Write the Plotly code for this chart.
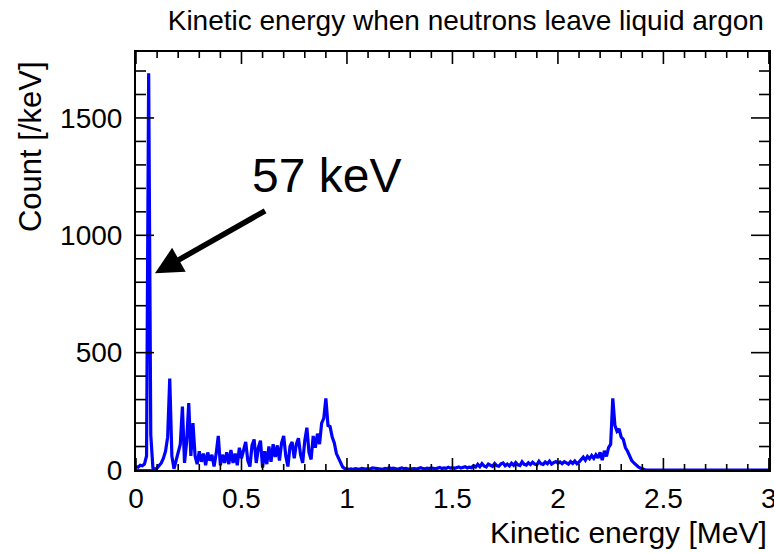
import numpy as np
import plotly.graph_objects as go

# Bin centres every 10 keV from 0 to 3 MeV
energy_mev = np.round(np.arange(0, 301) * 0.01, 2)

counts_0_1 = [
    15, 12, 20, 18, 25, 60, 1690, 150, 10, 2,        # 0.00-0.09
    8, 20, 30, 50, 80, 140, 390, 60, 5, 40,          # 0.10-0.19
    70, 110, 270, 30, 120, 285, 60, 200, 60, 25,     # 0.20-0.29
    80, 35, 70, 20, 75, 40, 65, 15, 70, 145,         # 0.30-0.39
    20, 65, 30, 75, 25, 85, 30, 70, 20, 95,          # 0.40-0.49
    50, 90, 120, 40, 15, 105, 130, 30, 95, 125,      # 0.50-0.59
    10, 80, 25, 100, 35, 110, 55, 105, 40, 115,      # 0.60-0.69
    145, 60, 15, 100, 120, 50, 110, 135, 65, 30,     # 0.70-0.79
    125, 180, 75, 45, 145, 95, 155, 110, 200, 220,   # 0.80-0.89
    305, 190, 185, 140, 115, 70, 50, 25, 12, 6,      # 0.90-0.99
]
counts_1_2 = [
    4, 3, 5, 2, 6, 4, 3, 7, 5, 4,                    # 1.00-1.09
    6, 3, 9, 8, 4, 6, 5, 3, 7, 5,                    # 1.10-1.19
    10, 6, 8, 5, 3, 6, 9, 5, 7, 4,                   # 1.20-1.29
    5, 8, 6, 4, 7, 10, 6, 5, 8, 6,                   # 1.30-1.39
    9, 7, 5, 8, 11, 6, 9, 7, 12, 8,                  # 1.40-1.49
    10, 7, 9, 13, 8, 11, 14, 9, 12, 10,              # 1.50-1.59
    18, 12, 24, 14, 27, 17, 13, 25, 19, 15,          # 1.60-1.69
    28, 19, 16, 26, 30, 18, 25, 17, 29, 20,          # 1.70-1.79
    32, 22, 19, 35, 24, 21, 31, 23, 33, 25,          # 1.80-1.89
    22, 37, 26, 24, 34, 27, 38, 25, 31, 36,          # 1.90-1.99
]
counts_2_3 = [
    29, 34, 27, 35, 30, 25, 36, 28, 38, 27,          # 2.00-2.09
    34, 45, 55, 42, 58, 48, 62, 50, 65, 52,          # 2.10-2.19
    75, 42, 82, 58, 95, 110, 305, 190, 165, 175,     # 2.20-2.29
    140, 130, 95, 80, 55, 40, 30, 20, 14, 8,         # 2.30-2.39
    4, 2, 0, 0, 0, 0, 0, 0, 0, 0,                    # 2.40-2.49
    0, 0, 0, 0, 0, 0, 0, 0, 0, 0,                    # 2.50-2.59
    0, 0, 0, 0, 0, 0, 0, 0, 0, 0,                    # 2.60-2.69
    0, 0, 0, 0, 0, 0, 0, 0, 0, 0,                    # 2.70-2.79
    0, 0, 0, 0, 0, 0, 0, 0, 0, 0,                    # 2.80-2.89
    0, 0, 0, 0, 0, 0, 0, 0, 0, 0,                    # 2.90-2.99
    0,                                               # 3.00
]
counts = counts_0_1 + counts_1_2 + counts_2_3

x_ticks = [0, 0.5, 1, 1.5, 2, 2.5, 3]
x_tick_text = ["0", "0.5", "1", "1.5", "2", "2.5", "3"]
y_ticks = [0, 500, 1000, 1500]
y_tick_text = ["0", "500", "1000", "1500"]
x_minor_step = 0.1
y_minor_step = 100

title_text = "Kinetic energy when neutrons leave liquid argon"
x_title = "Kinetic energy [MeV]"
y_title = "Count [/keV]"
peak_label = "57 keV"

FONT = "Liberation Sans, Arial, Helvetica, sans-serif"
X_RANGE = [0, 3.0005]
Y_RANGE = [0, 1781]
PLOT_W, PLOT_H = 633, 418

fig = go.Figure()
fig.add_trace(go.Scatter(
    x=energy_mev, y=counts, mode="lines",
    line=dict(color="#0000ff", width=3.2),
    showlegend=False, hoverinfo="skip",
))

axis_common = dict(
    showgrid=False, zeroline=False, showline=True, linecolor="black",
    linewidth=2, mirror=True, ticks="",
    tickfont=dict(family=FONT, size=28, color="black"),
    ticklabeloverflow="allow", automargin=False,
)
fig.update_xaxes(range=X_RANGE, tickvals=x_ticks, ticktext=x_tick_text,
                 ticklabelstandoff=2, **axis_common)
fig.update_yaxes(range=Y_RANGE, tickvals=y_ticks, ticktext=y_tick_text,
                 ticklabelstandoff=6, **axis_common)

# ROOT-style inside ticks on all four sides, derived from the tick arrays
shapes = []
tick_line = dict(color="black", width=1.6)
x_minor = [v for v in np.round(np.arange(x_ticks[0], x_ticks[-1] + 1e-9, x_minor_step), 3)
           if not np.any(np.isclose(v, x_ticks))]
y_minor = [v for v in np.arange(y_ticks[0], Y_RANGE[1], y_minor_step)
           if v not in y_ticks]
for vals, length in ((x_ticks, 12), (x_minor, 6)):
    frac = length / PLOT_H
    for v in vals:
        shapes.append(dict(type="line", xref="x", yref="paper", x0=v, x1=v,
                           y0=0, y1=frac, line=tick_line, layer="above"))
        shapes.append(dict(type="line", xref="x", yref="paper", x0=v, x1=v,
                           y0=1, y1=1 - frac, line=tick_line, layer="above"))
for vals, length in ((y_ticks, 18), (y_minor, 10)):
    frac = length / PLOT_W
    for v in vals:
        shapes.append(dict(type="line", xref="paper", yref="y", x0=0, x1=frac,
                           y0=v, y1=v, line=tick_line, layer="above"))
        shapes.append(dict(type="line", xref="paper", yref="y", x0=1, x1=1 - frac,
                           y0=v, y1=v, line=tick_line, layer="above"))

fig.update_layout(
    width=774, height=553,
    margin=dict(l=136, r=5, t=52, b=83, pad=0, autoexpand=False),
    plot_bgcolor="white", paper_bgcolor="white",
    shapes=shapes,
    title=dict(text=title_text, x=0.521, xref="paper", xanchor="center",
               y=1 - 20 / 553, yref="container", yanchor="middle",
               font=dict(family=FONT, size=28, color="black")),
    annotations=[
        dict(text=x_title, xref="paper", yref="paper", x=1.0, y=-62 / 418,
             xanchor="right", yanchor="middle", showarrow=False,
             font=dict(family=FONT, size=30, color="black")),
        dict(text=y_title, xref="paper", yref="paper", x=-106 / 633, y=0.982,
             xanchor="center", yanchor="top", textangle=-90, showarrow=False,
             font=dict(family=FONT, size=31, color="black")),
        dict(text=peak_label, xref="x", yref="y", x=0.54, y=1255,
             xanchor="left", yanchor="middle", showarrow=False,
             font=dict(family=FONT, size=48, color="black")),
        dict(text="", xref="x", yref="y", x=0.09, y=838,
             axref="x", ayref="y", ax=0.619, ay=1108,
             showarrow=True, arrowhead=2, arrowsize=1.0, arrowwidth=5.5,
             arrowcolor="black", standoff=0),
    ],
)

fig.write_html("out.html")
